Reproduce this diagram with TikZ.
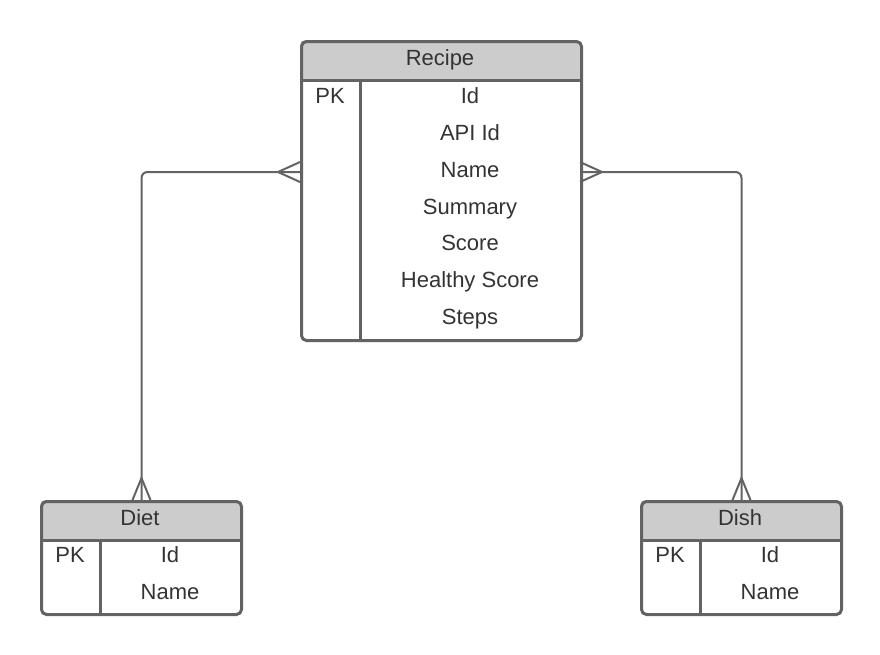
\documentclass[tikz,border=0pt]{standalone}
\usepackage{fontspec}
\setmainfont{Liberation Sans}
\definecolor{edge}{HTML}{636363}
\definecolor{hdr}{HTML}{CCCCCC}
\definecolor{txt}{HTML}{333333}
\begin{document}
\begin{tikzpicture}[x=1pt,y=-1pt,
  box/.style={draw=edge, line width=3pt, rounded corners=5pt, inner sep=0pt, anchor=north west},
  lbl/.style={text=txt, font=\fontsize{22}{26}\selectfont, text height=15.5pt, text depth=0pt, inner sep=0pt},
  sep/.style={draw=edge, line width=3pt},
  conn/.style={draw=edge, line width=2pt, rounded corners=6pt},
  foot/.style={draw=edge, line width=2pt}]
\useasboundingbox (0,0) rectangle (880,654);

% ---------- Recipe ----------
\begin{scope}
  \clip[rounded corners=5pt] (300,40) rectangle (580,339);
  \fill[hdr] (300,40) rectangle (580,80);
\end{scope}
\draw[sep] (300,80) -- (580,80);
\draw[sep] (360,80) -- (360,339);
\node[box, minimum width=280pt, minimum height=299pt] (recipe) at (300,40) {};
\node[lbl] (recipe-title) at (440,58) {Recipe};
\node[lbl] (recipe-pk) at (330,96) {PK};
\node[lbl] (recipe-id) at (470,96) {Id};
\node[lbl] (recipe-api) at (470,132.8) {API Id};
\node[lbl] (recipe-name) at (470,169.6) {Name};
\node[lbl] (recipe-sum) at (470,206.4) {Summary};
\node[lbl] (recipe-score) at (470,243.2) {Score};
\node[lbl] (recipe-hs) at (470,280) {Healthy Score};
\node[lbl] (recipe-steps) at (470,316.8) {Steps};

% ---------- Diet ----------
\begin{scope}
  \clip[rounded corners=5pt] (40,500) rectangle (240,613);
  \fill[hdr] (40,500) rectangle (240,540);
\end{scope}
\draw[sep] (40,540) -- (240,540);
\draw[sep] (100,540) -- (100,613);
\node[box, minimum width=200pt, minimum height=113pt] (diet) at (40,500) {};
\node[lbl] (diet-title) at (140,518) {Diet};
\node[lbl] (diet-pk) at (70,555) {PK};
\node[lbl] (diet-id) at (170,555) {Id};
\node[lbl] (diet-name) at (170,592) {Name};

% ---------- Dish ----------
\begin{scope}
  \clip[rounded corners=5pt] (640,500) rectangle (840,613);
  \fill[hdr] (640,500) rectangle (840,540);
\end{scope}
\draw[sep] (640,540) -- (840,540);
\draw[sep] (700,540) -- (700,613);
\node[box, minimum width=200pt, minimum height=113pt] (dish) at (640,500) {};
\node[lbl] (dish-title) at (740,518) {Dish};
\node[lbl] (dish-pk) at (670,555) {PK};
\node[lbl] (dish-id) at (770,555) {Id};
\node[lbl] (dish-name) at (770,592) {Name};

% ---------- Connectors ----------
\coordinate (rl) at (300,172);
\coordinate (rr) at (580,172);
\draw[conn] (rl) -| (diet.north);
\draw[conn] (rr) -| (dish.north);

% crow's feet
\draw[foot] ([yshift=10pt]rl) -- ([xshift=-22pt]rl) -- ([yshift=-10pt]rl);
\draw[foot] ([yshift=10pt]rr) -- ([xshift=22pt]rr) -- ([yshift=-10pt]rr);
\draw[foot] ([xshift=-9pt]diet.north) -- ([yshift=22pt]diet.north) -- ([xshift=9pt]diet.north);
\draw[foot] ([xshift=-9pt]dish.north) -- ([yshift=22pt]dish.north) -- ([xshift=9pt]dish.north);
\end{tikzpicture}
\end{document}
